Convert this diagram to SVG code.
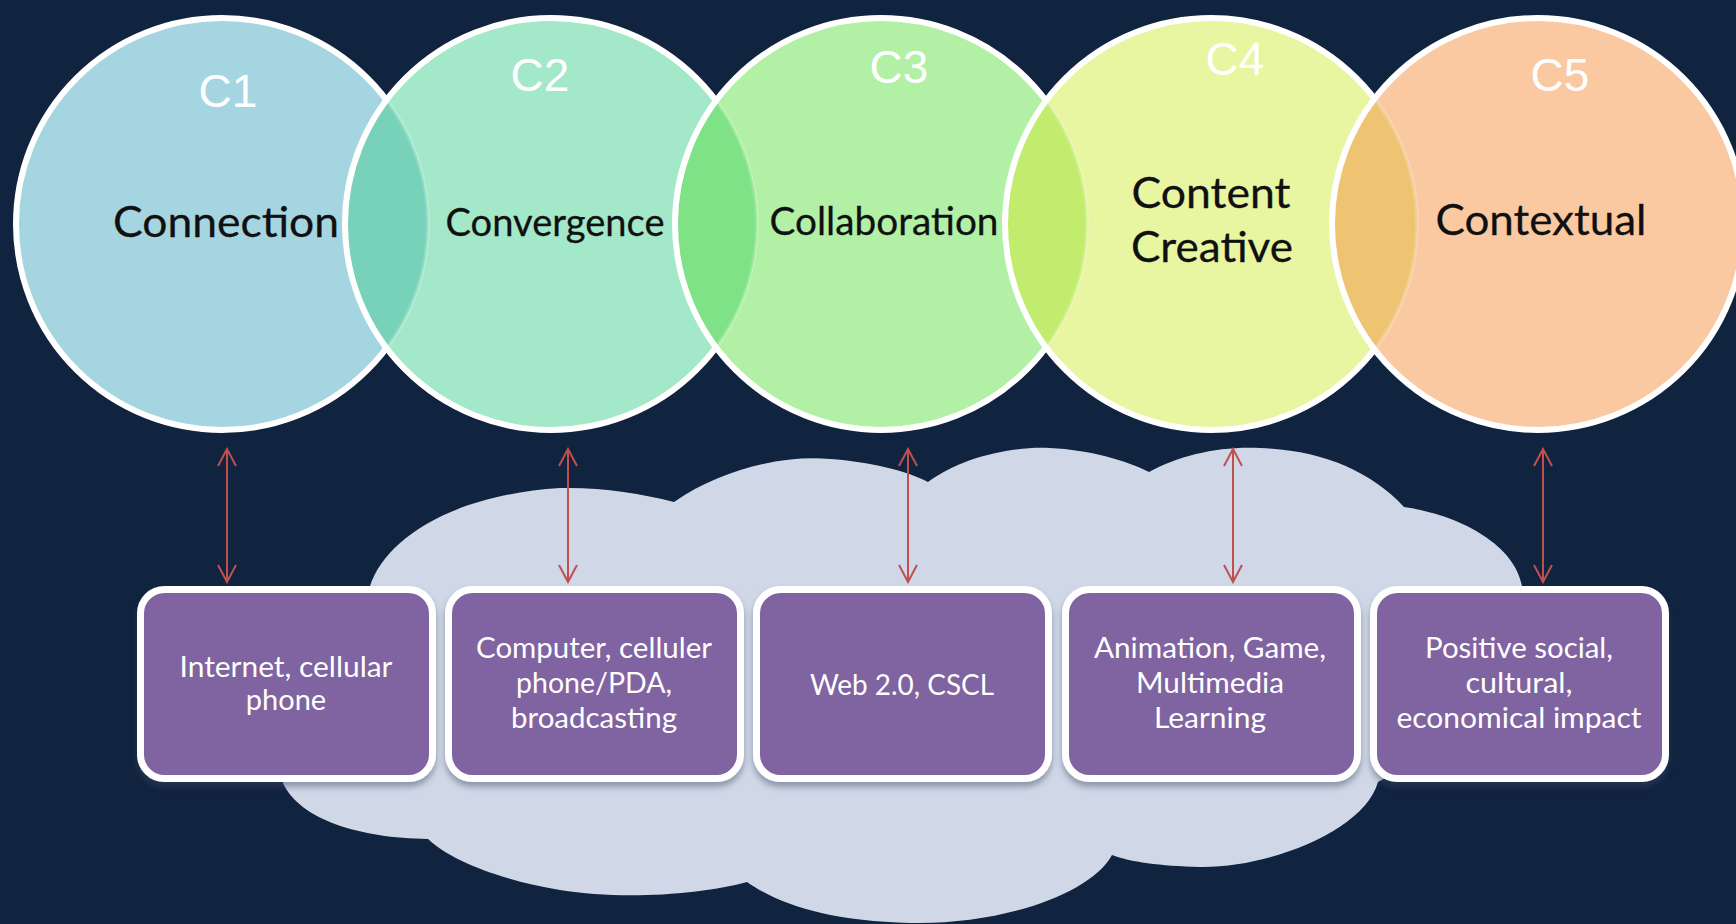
<svg xmlns="http://www.w3.org/2000/svg" width="1736" height="924" viewBox="0 0 1736 924">
  <style>
    .lbl { font-family: "Liberation Sans", Arial, sans-serif; font-size: 46px; fill: #ffffff; text-anchor: middle; }
    .ct { font-family: Lato, "Open Sans", sans-serif; fill: #101010; stroke: #1a1a1a; stroke-width: 0.3; text-anchor: middle; }
    .ring { fill: none; stroke: #ffffff; stroke-width: 6; }
    .faint { fill: none; stroke: #ffffff; stroke-opacity: 0.18; stroke-width: 4; }
    .box { fill: #8063A1; stroke: #ffffff; stroke-width: 7; }
    .bt { font-family: Lato, "Open Sans", sans-serif; font-size: 29px; fill: #ffffff; text-anchor: middle; }
    .arr { stroke: #C0504D; stroke-width: 2; fill: none; marker-start: url(#ah); marker-end: url(#ah); }
  </style>
  <defs>
    <marker id="ah" viewBox="0 0 20 20" refX="18" refY="10" markerWidth="20" markerHeight="20" markerUnits="userSpaceOnUse" orient="auto-start-reverse">
      <path d="M1,1 L18,10 L1,19" fill="none" stroke="#C0504D" stroke-width="2"/>
    </marker>
    <clipPath id="k1"><circle cx="222" cy="224" r="206"/></clipPath>
    <clipPath id="k2"><circle cx="551" cy="224" r="206"/></clipPath>
    <clipPath id="k3"><circle cx="881" cy="224" r="206"/></clipPath>
    <clipPath id="k4"><circle cx="1211" cy="224" r="206"/></clipPath>
    <clipPath id="k5"><circle cx="1538" cy="224" r="206"/></clipPath>
    <filter id="sh" x="-10%" y="-10%" width="120%" height="130%">
      <feDropShadow dx="0" dy="5" stdDeviation="3" flood-color="#3a4560" flood-opacity="0.45"/>
    </filter>
  </defs>

  <rect width="1736" height="924" fill="#10233F"/>

  <!-- circles -->
  <g id="node-c1">
    <circle cx="222" cy="224" r="206" fill="#A6D5E2"/>
    <circle cx="222" cy="224" r="206" class="ring"/>
    <text class="lbl" x="228" y="107">C1</text>
    <text class="ct" x="226" y="237" font-size="43" textLength="226" lengthAdjust="spacingAndGlyphs">Connection</text>
  </g>
  <g id="node-c2">
    <circle cx="551" cy="224" r="206" fill="#A3E8C9"/>
    <circle cx="551" cy="224" r="206" fill="#77D2B9" clip-path="url(#k1)"/>
    <circle cx="222" cy="224" r="206" class="faint" clip-path="url(#k2)"/>
    <circle cx="551" cy="224" r="206" class="ring"/>
    <text class="lbl" x="540" y="91">C2</text>
    <text class="ct" x="555" y="236" font-size="38" textLength="219" lengthAdjust="spacingAndGlyphs">Convergence</text>
  </g>
  <g id="node-c3">
    <circle cx="881" cy="224" r="206" fill="#B1F0A5"/>
    <circle cx="881" cy="224" r="206" fill="#80E286" clip-path="url(#k2)"/>
    <circle cx="551" cy="224" r="206" class="faint" clip-path="url(#k3)"/>
    <circle cx="881" cy="224" r="206" class="ring"/>
    <text class="lbl" x="899" y="83">C3</text>
    <text class="ct" x="884" y="235" font-size="38" textLength="229" lengthAdjust="spacingAndGlyphs">Collaboration</text>
  </g>
  <g id="node-c4">
    <circle cx="1211" cy="224" r="206" fill="#E8F5A1"/>
    <circle cx="1211" cy="224" r="206" fill="#C2EC6E" clip-path="url(#k3)"/>
    <circle cx="881" cy="224" r="206" class="faint" clip-path="url(#k4)"/>
    <circle cx="1211" cy="224" r="206" class="ring"/>
    <text class="lbl" x="1235" y="75">C4</text>
    <text class="ct" x="1211" y="208" font-size="43" textLength="159" lengthAdjust="spacingAndGlyphs">Content</text>
    <text class="ct" x="1212" y="262" font-size="43" textLength="162" lengthAdjust="spacingAndGlyphs">Creative</text>
  </g>
  <g id="node-c5">
    <circle cx="1538" cy="224" r="206" fill="#FAC9A2"/>
    <circle cx="1538" cy="224" r="206" fill="#EEC372" clip-path="url(#k4)"/>
    <circle cx="1211" cy="224" r="206" class="faint" clip-path="url(#k5)"/>
    <circle cx="1538" cy="224" r="206" class="ring"/>
    <text class="lbl" x="1560" y="91">C5</text>
    <text class="ct" x="1541" y="235" font-size="43" textLength="211" lengthAdjust="spacingAndGlyphs">Contextual</text>
  </g>

  <!-- cloud -->
  <g id="cloud">
    <path fill="#D0D8E7" d="M370,586 C385,540 450,495 560,488 C600,487 640,493 674,502 C720,470 780,455 830,459 C870,462 905,470 928,482 C960,458 1010,446 1050,448 C1090,450 1125,460 1149,472 C1180,455 1220,446 1260,448 C1320,450 1370,470 1404,507 C1460,515 1515,545 1522,586 L1522,700 L1378,782 C1365,830 1270,868 1200,867 C1160,866 1130,862 1112,855 C1090,895 1000,925 910,923 C830,921 780,905 747,882 C700,895 620,900 560,890 C500,880 450,860 428,839 C360,838 300,820 283,783 L290,700 Z"/>
  </g>

  <!-- connectors -->
  <g id="connectors">
    <line class="arr" x1="227" y1="449" x2="227" y2="582"/>
    <line class="arr" x1="568" y1="449" x2="568" y2="582"/>
    <line class="arr" x1="908" y1="449" x2="908" y2="582"/>
    <line class="arr" x1="1233" y1="449" x2="1233" y2="582"/>
    <line class="arr" x1="1543" y1="449" x2="1543" y2="582"/>
  </g>

  <!-- boxes -->
  <g id="node-b1">
    <rect class="box" x="140.5" y="589.5" width="292" height="189" rx="24" filter="url(#sh)"/>
    <text class="bt" x="286" y="677" textLength="213" lengthAdjust="spacingAndGlyphs">Internet, cellular</text>
    <text class="bt" x="286" y="710">phone</text>
  </g>
  <g id="node-b2">
    <rect class="box" x="448.5" y="589.5" width="292" height="189" rx="24" filter="url(#sh)"/>
    <text class="bt" x="594" y="658" textLength="236" lengthAdjust="spacingAndGlyphs">Computer, celluler</text>
    <text class="bt" x="594" y="693" textLength="156" lengthAdjust="spacingAndGlyphs">phone/PDA,</text>
    <text class="bt" x="594" y="728" textLength="166" lengthAdjust="spacingAndGlyphs">broadcasting</text>
  </g>
  <g id="node-b3">
    <rect class="box" x="756.5" y="589.5" width="292" height="189" rx="24" filter="url(#sh)"/>
    <text class="bt" x="902" y="695" textLength="184" lengthAdjust="spacingAndGlyphs">Web 2.0, CSCL</text>
  </g>
  <g id="node-b4">
    <rect class="box" x="1065.5" y="589.5" width="292" height="189" rx="24" filter="url(#sh)"/>
    <text class="bt" x="1210" y="658" textLength="232" lengthAdjust="spacingAndGlyphs">Animation, Game,</text>
    <text class="bt" x="1210" y="693" textLength="148" lengthAdjust="spacingAndGlyphs">Multimedia</text>
    <text class="bt" x="1210" y="728" textLength="112" lengthAdjust="spacingAndGlyphs">Learning</text>
  </g>
  <g id="node-b5">
    <rect class="box" x="1373.5" y="589.5" width="292" height="189" rx="24" filter="url(#sh)"/>
    <text class="bt" x="1519" y="658" textLength="188" lengthAdjust="spacingAndGlyphs">Positive social,</text>
    <text class="bt" x="1519" y="693" textLength="107" lengthAdjust="spacingAndGlyphs">cultural,</text>
    <text class="bt" x="1519" y="728" textLength="245" lengthAdjust="spacingAndGlyphs">economical impact</text>
  </g>
</svg>
